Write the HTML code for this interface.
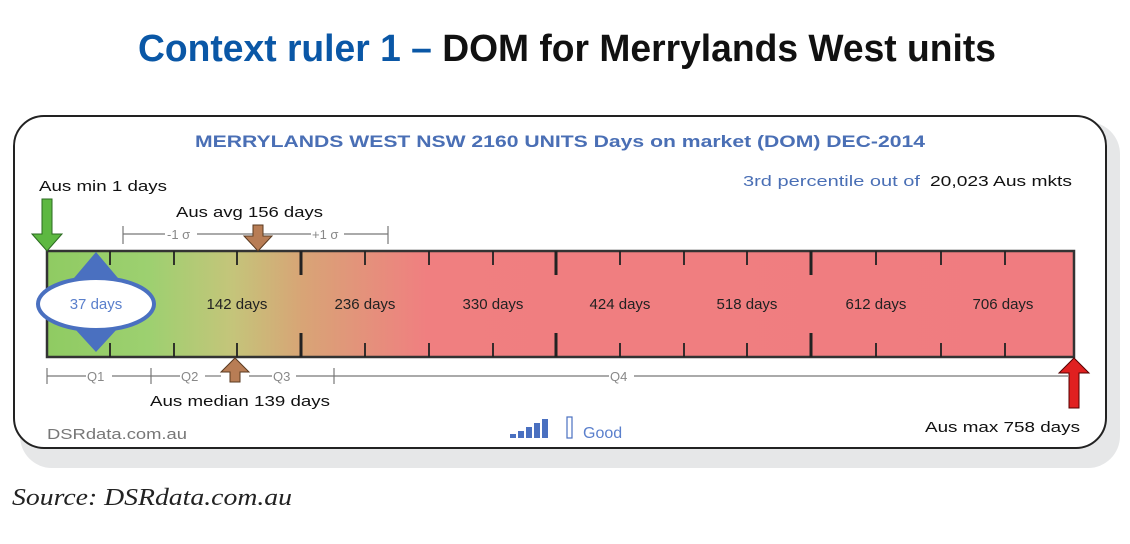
<!DOCTYPE html>
<html><head><meta charset="utf-8"><style>
html,body{margin:0;padding:0;background:#fff;width:1130px;height:544px;overflow:hidden}
svg{display:block}
text{font-family:"Liberation Sans",sans-serif}
</style></head><body>
<svg width="1130" height="544" viewBox="0 0 1130 544" xmlns="http://www.w3.org/2000/svg">
<defs>
<linearGradient id="g" x1="46" x2="1074" y1="0" y2="0" gradientUnits="userSpaceOnUse">
<stop offset="0" stop-color="#8fcb62"/>
<stop offset="0.1" stop-color="#9dd070"/>
<stop offset="0.18" stop-color="#c4c57a"/>
<stop offset="0.25" stop-color="#d8a476"/>
<stop offset="0.37" stop-color="#f07f80"/>
<stop offset="1" stop-color="#f07c80"/>
</linearGradient>
</defs>
<text x="138" y="61" font-size="38" font-weight="bold" textLength="858" lengthAdjust="spacingAndGlyphs"><tspan fill="#0a57a6">Context ruler 1 –</tspan><tspan fill="#111"> DOM for Merrylands West units</tspan></text>
<!-- shadow -->
<rect x="20" y="122" width="1100" height="346" rx="32" fill="#e6e7e8"/>
<rect x="14" y="116" width="1092" height="332" rx="30" fill="#fff" stroke="#222" stroke-width="2"/>
<text x="560" y="147" font-size="17" font-weight="bold" fill="#4a6fb5" text-anchor="middle" textLength="730" lengthAdjust="spacingAndGlyphs">MERRYLANDS WEST NSW 2160 UNITS Days on market (DOM) DEC-2014</text>
<text x="743" y="186" font-size="15" fill="#4a6fb5" textLength="177" lengthAdjust="spacingAndGlyphs">3rd percentile out of</text>
<text x="930" y="186" font-size="15" fill="#111" textLength="142" lengthAdjust="spacingAndGlyphs">20,023 Aus mkts</text>
<text x="39" y="191" font-size="15" fill="#111" textLength="128" lengthAdjust="spacingAndGlyphs">Aus min 1 days</text>
<text x="176" y="217" font-size="15" fill="#111" textLength="147" lengthAdjust="spacingAndGlyphs">Aus avg 156 days</text>
<!-- sigma -->
<g stroke="#777" stroke-width="1.2">
<line x1="123" y1="234" x2="165" y2="234"/><line x1="197" y1="234" x2="311" y2="234"/><line x1="344" y1="234" x2="388" y2="234"/>
<line x1="123" y1="226" x2="123" y2="244"/><line x1="388" y1="226" x2="388" y2="244"/>
</g>
<text x="167" y="239" font-size="13" fill="#888">-1 σ</text>
<text x="312" y="239" font-size="13" fill="#888">+1 σ</text>
<!-- bar -->
<rect x="47" y="251" width="1027" height="106" fill="url(#g)" stroke="#333" stroke-width="2.5"/>
<g stroke="#222" stroke-width="1.8">
<path d="M110 251v14M174 251v14M237 251v14M365 251v14M429 251v14M493 251v14M620 251v14M684 251v14M747 251v14M876 251v14M941 251v14M1005 251v14
M110 357v-14M174 357v-14M237 357v-14M365 357v-14M429 357v-14M493 357v-14M620 357v-14M684 357v-14M747 357v-14M876 357v-14M941 357v-14M1005 357v-14"/>
</g>
<g stroke="#222" stroke-width="3">
<path d="M301 251v24M556 251v24M811 251v24M301 357v-24M556 357v-24M811 357v-24"/>
</g>
<g font-size="15" fill="#222" text-anchor="middle">
<text x="237" y="309">142 days</text><text x="365" y="309">236 days</text><text x="493" y="309">330 days</text><text x="620" y="309">424 days</text><text x="747" y="309">518 days</text><text x="876" y="309">612 days</text><text x="1003" y="309">706 days</text>
</g>
<!-- diamond + ellipse -->
<polygon points="96,252 140,304 96,352 52,304" fill="#4a70c0"/>
<ellipse cx="96" cy="304" rx="58" ry="26" fill="#fff" stroke="#4a70c0" stroke-width="4"/>
<text x="96" y="309" font-size="15" fill="#5a7fcc" text-anchor="middle">37 days</text>
<!-- arrows -->
<polygon points="42,199 52,199 52,234 62,234 47,251 32,234 42,234" fill="#5db841" stroke="#2a6a20" stroke-width="1"/>
<polygon points="253,225 263,225 263,236 272,236 258,251 244,236 253,236" fill="#b87d55" stroke="#5a3a20" stroke-width="1"/>
<polygon points="230,382 240,382 240,372 249,372 235,358 221,372 230,372" fill="#b87d55" stroke="#5a3a20" stroke-width="1"/>
<polygon points="1069,408 1079,408 1079,373 1089,373 1074,358 1059,373 1069,373" fill="#e02020" stroke="#500" stroke-width="1"/>
<!-- quartiles -->
<g stroke="#777" stroke-width="1.2">
<line x1="47" y1="376" x2="86" y2="376"/><line x1="112" y1="376" x2="180" y2="376"/><line x1="205" y1="376" x2="221" y2="376"/><line x1="249" y1="376" x2="272" y2="376"/><line x1="296" y1="376" x2="609" y2="376"/><line x1="634" y1="376" x2="1068" y2="376"/>
<line x1="47" y1="368" x2="47" y2="384"/><line x1="151" y1="368" x2="151" y2="384"/><line x1="334" y1="368" x2="334" y2="384"/>
</g>
<g font-size="13" fill="#888"><text x="87" y="381">Q1</text><text x="181" y="381">Q2</text><text x="273" y="381">Q3</text><text x="610" y="381">Q4</text></g>
<text x="150" y="406" font-size="15" fill="#111" textLength="180" lengthAdjust="spacingAndGlyphs">Aus median 139 days</text>
<text x="47" y="439" font-size="15" fill="#777" textLength="140" lengthAdjust="spacingAndGlyphs">DSRdata.com.au</text>
<g fill="#4a70c0"><rect x="510" y="434" width="6" height="4"/><rect x="518" y="431" width="6" height="7"/><rect x="526" y="427" width="6" height="11"/><rect x="534" y="423" width="6" height="15"/><rect x="542" y="419" width="6" height="19"/></g>
<rect x="567" y="417" width="5" height="21" fill="none" stroke="#4a70c0" stroke-width="1.2"/>
<text x="583" y="438" font-size="16" fill="#5a7fcc">Good</text>
<text x="925" y="432" font-size="15" fill="#111" textLength="155" lengthAdjust="spacingAndGlyphs">Aus max 758 days</text>
<text x="12" y="505" font-size="24" font-style="italic" fill="#222" font-family="Liberation Serif,serif" style="font-family:'Liberation Serif',serif" textLength="280" lengthAdjust="spacingAndGlyphs">Source: DSRdata.com.au</text>
</svg>
</body></html>
